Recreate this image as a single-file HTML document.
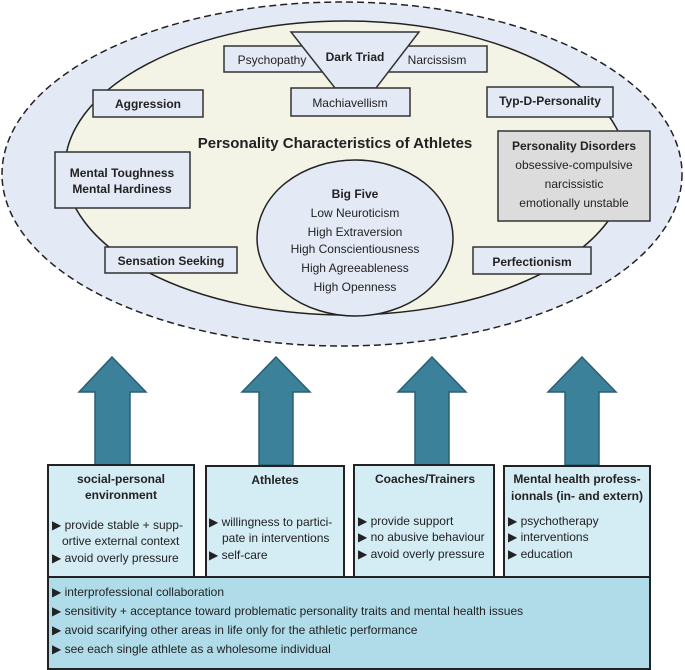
<!DOCTYPE html>
<html><head><meta charset="utf-8"><style>
html,body{margin:0;padding:0;background:#fff}
svg{display:block}
text{font-family:"Liberation Sans",sans-serif;fill:#222}
.b{font-weight:bold}
</style></head><body>
<svg width="685" height="670" viewBox="0 0 685 670" xmlns="http://www.w3.org/2000/svg">
<ellipse cx="342" cy="174" rx="340" ry="172" fill="#e3e9f5" stroke="#222" stroke-width="1.5" stroke-dasharray="7,4"/>
<ellipse cx="346" cy="168" rx="281" ry="147" fill="#f3f3e6" stroke="#222" stroke-width="1.5"/>
<rect x="224" y="46" width="263" height="26" fill="#e3e9f5" stroke="#333" stroke-width="1.5"/>
<polygon points="291,32 419,32 376,88 335,88" fill="#e3e9f5" stroke="#333" stroke-width="1.5"/>
<rect x="291" y="88" width="119" height="28" fill="#e3e9f5" stroke="#333" stroke-width="1.5"/>
<rect x="93" y="90" width="110" height="27" fill="#e3e9f5" stroke="#333" stroke-width="1.5"/>
<rect x="487" y="87" width="126" height="30" fill="#e3e9f5" stroke="#333" stroke-width="1.5"/>
<rect x="55" y="152" width="135" height="56" fill="#e3e9f5" stroke="#333" stroke-width="1.5"/>
<rect x="498" y="131" width="152" height="90" fill="#dcdcdc" stroke="#333" stroke-width="1.5"/>
<ellipse cx="355" cy="238" rx="98" ry="78" fill="#e3e9f5" stroke="#222" stroke-width="1.5"/>
<rect x="105" y="247" width="132" height="26" fill="#e3e9f5" stroke="#333" stroke-width="1.5"/>
<rect x="473" y="247" width="118" height="27" fill="#e3e9f5" stroke="#333" stroke-width="1.5"/>
<g font-size="12" text-anchor="middle">
<text x="272" y="64">Psychopathy</text>
<text x="355" y="61" class="b">Dark Triad</text>
<text x="437" y="64">Narcissism</text>
<text x="350" y="107">Machiavellism</text>
<text x="148" y="108" class="b">Aggression</text>
<text x="550" y="105" class="b">Typ-D-Personality</text>
<text x="122" y="177" class="b">Mental Toughness</text>
<text x="122" y="193" class="b">Mental Hardiness</text>
<text x="574" y="150" class="b">Personality Disorders</text>
<text x="574" y="169">obsessive-compulsive</text>
<text x="574" y="188">narcissistic</text>
<text x="574" y="207">emotionally unstable</text>
<text x="355" y="198" class="b">Big Five</text>
<text x="355" y="217">Low Neuroticism</text>
<text x="355" y="236">High Extraversion</text>
<text x="355" y="253">High Conscientiousness</text>
<text x="355" y="272">High Agreeableness</text>
<text x="355" y="291">High Openness</text>
<text x="171" y="265" class="b">Sensation Seeking</text>
<text x="532" y="266" class="b">Perfectionism</text>
</g>
<text x="335" y="148" font-size="15" class="b" text-anchor="middle">Personality Characteristics of Athletes</text>
<g fill="#3b8199" stroke="#2a5f75" stroke-width="1.5">
<polygon points="112,357 146,392 130,392 130,465 95,465 95,392 79,392"/>
<polygon points="276,357 310,392 293,392 293,465 259,465 259,392 242,392"/>
<polygon points="432,357 466,392 449,392 449,465 415,465 415,392 398,392"/>
<polygon points="582,357 616,392 599,392 599,465 565,465 565,392 548,392"/>
</g>
<g fill="#d4ecf4" stroke="#222" stroke-width="2">
<rect x="48" y="465" width="146" height="112"/>
<rect x="206" y="466" width="138" height="111"/>
<rect x="354" y="465" width="140" height="112"/>
<rect x="504" y="466" width="146" height="111"/>
<rect x="48" y="577" width="602" height="92" fill="#b0dbe8"/>
</g>
<g font-size="12">
<text x="121" y="483" class="b" text-anchor="middle">social-personal</text>
<text x="121" y="499" class="b" text-anchor="middle">environment</text>
<text x="52" y="529">▶ provide stable + supp-</text>
<text x="62" y="545">ortive external context</text>
<text x="52" y="562">▶ avoid overly pressure</text>
<text x="275" y="484" class="b" text-anchor="middle">Athletes</text>
<text x="209" y="526">▶ willingness to partici-</text>
<text x="222" y="542">pate in interventions</text>
<text x="209" y="559">▶ self-care</text>
<text x="425" y="483" class="b" text-anchor="middle">Coaches/Trainers</text>
<text x="358" y="525">▶ provide support</text>
<text x="358" y="541">▶ no abusive behaviour</text>
<text x="358" y="558">▶ avoid overly pressure</text>
<text x="577" y="483" class="b" text-anchor="middle">Mental health profess-</text>
<text x="577" y="500" class="b" text-anchor="middle">ionnals (in- and extern)</text>
<text x="508" y="525">▶ psychotherapy</text>
<text x="508" y="541">▶ interventions</text>
<text x="508" y="558">▶ education</text>
<text x="52" y="596">▶ interprofessional collaboration</text>
<text x="52" y="615">▶ sensitivity + acceptance toward problematic personality traits and mental health issues</text>
<text x="52" y="634">▶ avoid scarifying other areas in life only for the athletic performance</text>
<text x="52" y="653">▶ see each single athlete as a wholesome individual</text>
</g>
</svg>
</body></html>
